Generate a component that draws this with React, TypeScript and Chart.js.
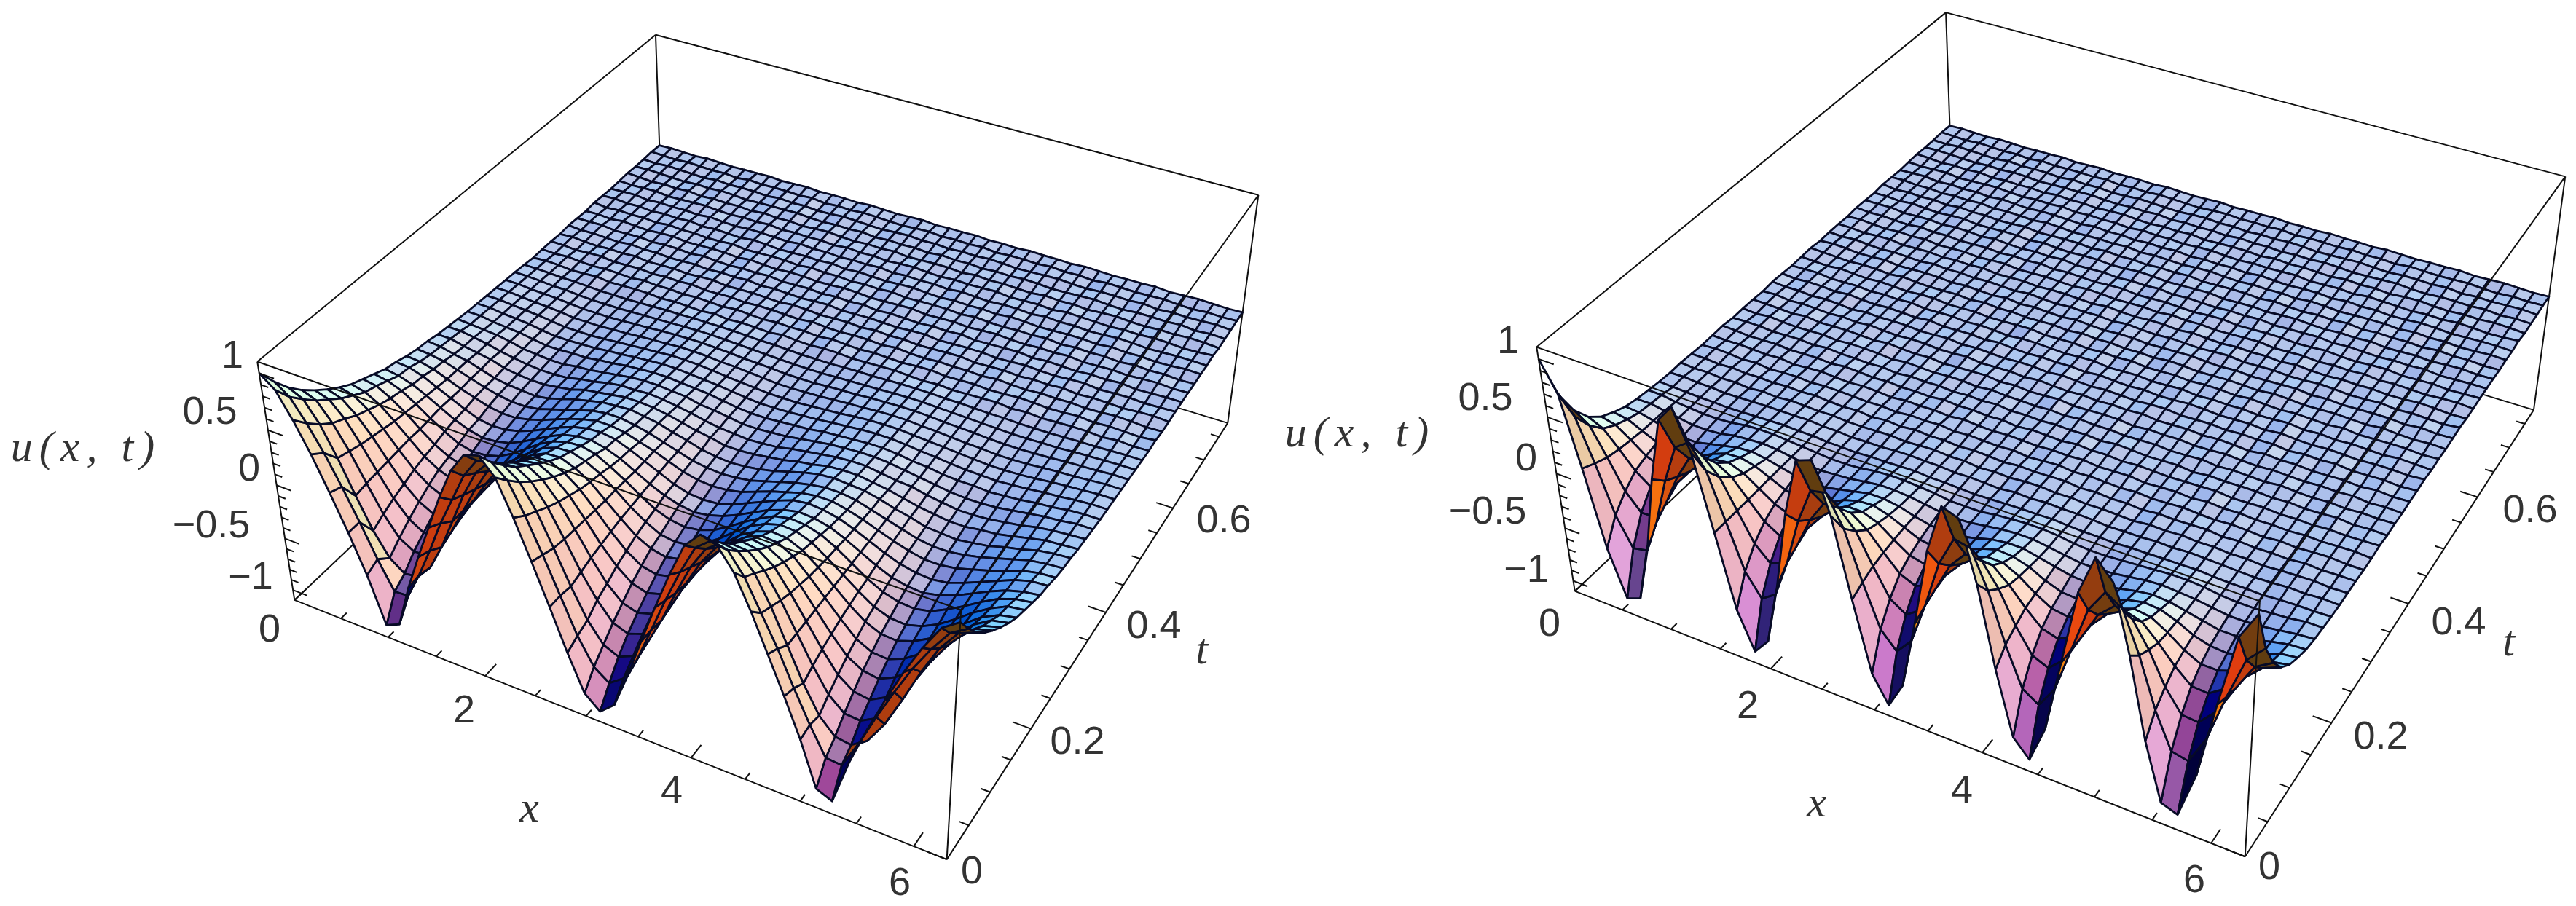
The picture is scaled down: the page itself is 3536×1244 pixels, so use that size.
import React, { useEffect, useRef } from "react";
import { Chart, registerables } from "chart.js";

Chart.register(...registerables);

// axis ranges of the plot box
const xMax = 6.283;
const tMax = 0.78;
const zHalf = 1.1;

// tick values
const xMajorTicks = [0, 2, 4, 6];
const xMinorTicks = [0.5, 1, 1.5, 2.5, 3, 3.5, 4.5, 5, 5.5];
const tMajorTicks = [0, 0.2, 0.4, 0.6];
const tMinorTicks = [0.05, 0.1, 0.15, 0.25, 0.3, 0.35, 0.45, 0.5, 0.55, 0.65, 0.7, 0.75];
const zMajorTicks = [-1, -0.5, 0, 0.5, 1];
const zMinorTicks = [-0.9, -0.8, -0.7, -0.6, -0.4, -0.3, -0.2, -0.1, 0.1, 0.2, 0.3, 0.4, 0.6, 0.7, 0.8, 0.9];

// u(x,t) in hundredths: one row per t line, front (t=0) to back
const leftNearRows = [
[100,90,68,42,12,-20,-55,-98,-92,-52,-18,14,46,74,92,96,82,52,18,-18,-55,-88,-100,-88,-55,-18,18,52,82,96,92,74,46,14,-18,-52,-92,-98,-55,-20,12,42,68,90,100],
[84,75,56,34,8,-20,-50,-76,-75,-50,-22,8,34,60,78,81,70,44,14,-18,-50,-74,-84,-74,-50,-18,14,44,70,81,78,60,34,8,-22,-50,-75,-76,-50,-20,8,34,56,75,84],
[70,64,46,20,-10,-38,-59,-69,-67,-53,-29,0,29,53,67,69,59,38,10,-20,-46,-64,-70,-64,-46,-20,10,38,59,69,67,53,29,0,-29,-53,-67,-69,-59,-38,-10,20,46,64,70],
[59,54,38,17,-8,-32,-50,-58,-57,-45,-24,0,24,45,57,58,50,32,8,-17,-38,-54,-59,-54,-38,-17,8,32,50,58,57,45,24,0,-24,-45,-57,-58,-50,-32,-8,17,38,54,59],
[50,46,33,14,-7,-27,-42,-50,-48,-38,-20,0,20,38,48,50,42,27,7,-14,-33,-46,-50,-46,-33,-14,7,27,42,50,48,38,20,0,-20,-38,-48,-50,-42,-27,-7,14,33,46,50],
[42,38,27,12,-6,-23,-35,-42,-40,-32,-17,0,17,32,40,42,35,23,6,-12,-27,-38,-42,-38,-27,-12,6,23,35,42,40,32,17,0,-17,-32,-40,-42,-35,-23,-6,12,27,38,42],
[35,32,23,10,-5,-19,-29,-35,-34,-27,-14,0,14,27,34,35,29,19,5,-10,-23,-32,-35,-32,-23,-10,5,19,29,35,34,27,14,0,-14,-27,-34,-35,-29,-19,-5,10,23,32,35],
[29,26,19,8,-4,-16,-24,-29,-28,-22,-12,0,12,22,28,29,24,16,4,-8,-19,-26,-29,-26,-19,-8,4,16,24,29,28,22,12,0,-12,-22,-28,-29,-24,-16,-4,8,19,26,29],
[25,23,16,7,-4,-14,-21,-25,-24,-19,-10,0,10,19,24,25,21,14,4,-7,-16,-23,-25,-23,-16,-7,4,14,21,25,24,19,10,0,-10,-19,-24,-25,-21,-14,-4,7,16,23,25],
[21,19,14,6,-3,-11,-18,-21,-20,-16,-9,0,9,16,20,21,18,11,3,-6,-14,-19,-21,-19,-14,-6,3,11,18,21,20,16,9,0,-9,-16,-20,-21,-18,-11,-3,6,14,19,21],
[17,15,11,5,-2,-9,-14,-17,-16,-13,-7,0,7,13,16,17,14,9,2,-5,-11,-15,-17,-15,-11,-5,2,9,14,17,16,13,7,0,-7,-13,-16,-17,-14,-9,-2,5,11,15,17],
[15,14,10,4,-2,-8,-13,-15,-14,-11,-6,0,6,11,14,15,13,8,2,-4,-10,-14,-15,-14,-10,-4,2,8,13,15,14,11,6,0,-6,-11,-14,-15,-13,-8,-2,4,10,14,15],
[12,11,8,3,-2,-6,-10,-12,-12,-9,-5,0,5,9,12,12,10,6,2,-3,-8,-11,-12,-11,-8,-3,2,6,10,12,12,9,5,0,-5,-9,-12,-12,-10,-6,-2,3,8,11,12],
[10,9,7,3,-1,-5,-8,-10,-10,-8,-4,0,4,8,10,10,8,5,1,-3,-7,-9,-10,-9,-7,-3,1,5,8,10,10,8,4,0,-4,-8,-10,-10,-8,-5,-1,3,7,9,10],
[9,8,5,3,-1,-5,-7,-8,-9,-7,-3,1,4,7,8,9,7,5,1,-2,-6,-8,-9,-8,-6,-3,1,5,8,9,8,7,4,0,-3,-7,-8,-9,-7,-5,-1,2,6,8,9],
[7,7,4,2,0,-4,-6,-7,-7,-5,-3,1,3,5,7,7,6,4,1,-2,-4,-7,-7,-6,-4,-2,1,3,6,7,7,5,3,0,-3,-5,-7,-7,-5,-4,-1,2,5,6,7],
[6,6,4,2,-1,-3,-5,-6,-6,-5,-2,0,3,5,5,6,5,3,1,-2,-4,-5,-6,-5,-4,-1,1,3,5,6,6,4,2,1,-2,-4,-6,-6,-5,-3,-1,2,4,5,6],
[5,4,3,2,0,-3,-4,-5,-5,-3,-2,0,2,4,5,5,4,3,0,-1,-3,-5,-5,-4,-3,-1,1,3,4,5,5,4,2,0,-2,-4,-5,-5,-4,-2,0,2,3,5,5],
[4,4,2,1,0,-2,-4,-4,-3,-3,-1,0,2,3,4,4,3,2,1,-1,-3,-4,-4,-3,-2,-1,1,2,3,4,4,3,1,0,-2,-3,-3,-4,-3,-2,0,1,3,4,4],
];
// left surface, the last faint wave before it goes flat
const leftMidRows = [
[3.5,3.5,2,1,0,-2,-3.5,-3.5,-3,-2.5,-1,0,1.5,2.5,3.5,3.5,2.5,1.5,.5,-1,-2.5,-3.5,-3.5,-3,-2,-1,.5,1.5,3,3.5,3.5,2.5,1,0,-1.5,-2.5,-3,-3.5,-2.5,-1.5,0,1,2.5,3.5,3.5],
[3,3,2,1,0,-1.5,-3,-3,-3,-2,-1,0,1,2,3,3,2.5,1.5,0,-1,-2,-3,-3,-3,-2,-1,0,1.5,2.5,3,3,2,1,0,-1,-2,-3,-3,-2.5,-1.5,0,1,2,3,3],
[2.5,2.5,1.5,.5,0,-1,-2.5,-2.5,-2.5,-1.5,-1,0,1,1.5,2.5,2.5,2,1,.5,-.5,-1.5,-2.5,-2.5,-2,-1.5,-.5,.5,1,2,2.5,2.5,1.5,1,0,-1,-1.5,-2.5,-2.5,-2,-1,0,.5,1.5,2.5,2.5],
[2,2,1,.5,0,-1,-2,-2,-2,-1.5,-.5,0,1,1.5,2,2,1.5,1,0,-.5,-1,-2,-2,-2,-1,-.5,0,1,1.5,2,2,1.5,.5,0,-.5,-1.5,-2,-2,-1.5,-1,0,.5,1,2,2],
[1.5,1.5,1,0,0,-1,-1.5,-1.5,-1.5,-1,-.5,0,.5,1,1.5,1.5,1,.5,0,-.5,-1,-1.5,-1.5,-1.5,-1,-.5,0,.5,1,1.5,1.5,1,.5,0,-.5,-1,-1.5,-1.5,-1,-1,0,.5,1,1.5,1.5],
[1,1,.5,0,0,-.5,-1,-1,-1,-.5,0,.5,.5,1,1,1,1,.5,0,0,-.5,-1,-1,-1,-.5,0,0,.5,1,1,1,.5,.5,0,-.5,-.5,-1,-1,-1,-.5,0,0,.5,1,1],
];
const rightNearRows = [
[100,76,14,-54,-96,-91,-41,28,84,99,65,0,-65,-99,-84,-28,41,91,96,54,-14,-76,-100,-76,-14,54,96,91,41,-28,-84,-99,-65,0,65,99,84,28,-41,-91,-96,-54,14,76,100],
[61,46,9,-33,-59,-56,-25,17,51,60,40,0,-40,-60,-51,-17,25,56,59,33,-9,-46,-61,-46,-9,33,59,56,25,-17,-51,-60,-40,0,40,60,51,17,-25,-56,-59,-33,9,46,61],
[38,29,5,-21,-36,-35,-16,11,32,38,25,0,-25,-38,-32,-11,16,35,36,21,-5,-29,-38,-29,-5,21,36,35,16,-11,-32,-38,-25,0,25,38,32,11,-16,-35,-36,-21,5,29,38],
[23,17,3,-12,-22,-21,-9,6,19,23,15,0,-15,-23,-19,-6,9,21,22,12,-3,-17,-23,-17,-3,12,22,21,9,-6,-19,-23,-15,0,15,23,19,6,-9,-21,-22,-12,3,17,23],
[14,11,2,-8,-13,-13,-6,4,12,14,9,0,-9,-14,-12,-4,6,13,13,8,-2,-11,-14,-11,-2,8,13,13,6,-4,-12,-14,-9,0,9,14,12,4,-6,-13,-13,-8,2,11,14],
[9,7,1,-5,-9,-8,-4,3,8,9,6,0,-6,-9,-8,-3,4,8,9,5,-1,-7,-9,-7,-1,5,9,8,4,-3,-8,-9,-6,0,6,9,8,3,-4,-8,-9,-5,1,7,9],
[5,4,1,-3,-5,-5,-2,1,4,5,3,0,-3,-5,-4,-1,2,5,5,3,-1,-4,-5,-4,-1,3,5,5,2,-1,-4,-5,-3,0,3,5,4,1,-2,-5,-5,-3,1,4,5],
];
// slightly rippled far part of the surface, in half-hundredths, t lines behind the wedges
const farRows = [
[6,6,2,-2,-6,-6,-4,2,4,6,4,0,-4,-6,-4,-2,2,6,6,4,0,-4,-6,-4,0,4,6,6,2,-2,-6,-6,-4,0,4,6,4,2,-2,-6,-6,-4,0,4,6],
[4,4,0,-2,-4,-4,-2,2,4,4,2,0,-2,-4,-4,-2,2,4,4,2,0,-4,-4,-4,0,2,4,4,2,-2,-4,-4,-2,0,2,4,4,2,-2,-4,-4,-2,0,4,4],
[2,1,0,-1,-1,-2,-1,0,1,2,1,1,-1,-1,-2,0,0,1,2,0,0,-1,-2,-1,0,1,1,2,0,-1,-1,-2,0,0,1,1,2,0,-1,-1,-2,0,1,1,2],
[1,2,0,0,-2,-1,0,1,1,1,2,0,0,-2,-1,-1,1,2,1,1,-1,0,-1,-2,1,0,2,1,1,0,-2,-1,-1,1,0,2,1,0,-1,-2,-1,1,0,2,1],
[2,0,1,-1,0,-2,1,-1,2,1,0,1,-1,-1,0,1,-1,1,2,0,1,-2,0,-1,1,2,0,1,-1,0,-1,-2,1,0,2,0,1,-1,0,-2,0,1,2,0,1],
[1,1,-1,1,-1,0,-1,1,0,2,0,-1,1,-2,1,-1,2,0,1,-1,1,0,-2,1,0,1,2,-1,1,-1,0,-2,1,0,1,2,-1,1,-1,0,-1,2,0,1,1],
[0,2,1,-1,1,-2,0,1,-1,1,1,0,-1,0,-2,1,0,2,-1,1,0,-1,1,-2,0,2,-1,1,0,-1,1,-1,0,2,0,-1,1,0,-2,1,-1,1,2,0,0],
[1,0,1,0,-1,1,-2,0,2,0,-1,1,0,-2,1,0,1,-1,2,0,-1,1,0,-1,1,0,2,-1,0,1,-2,0,1,-1,2,0,1,-1,0,-1,1,0,1,2,0],
[2,1,-1,0,1,-1,0,1,-1,2,1,-1,1,-1,0,-1,2,0,1,-1,1,-2,1,0,-1,2,0,1,-1,1,0,-1,0,1,2,-1,0,1,-1,0,-1,1,0,1,2],
[0,1,1,-1,0,1,-1,2,0,0,-1,1,-2,1,0,1,-1,1,0,2,-1,0,-1,1,0,1,-1,2,1,-1,0,1,-2,1,0,1,1,-1,1,-1,0,2,-1,1,0],
[1,-1,2,0,-1,0,1,-1,1,1,0,-2,1,0,-1,1,1,-1,2,0,0,-1,1,-1,2,0,1,-1,0,1,-1,0,2,-1,1,0,-1,2,0,-1,1,-1,1,0,1],
[1,1,0,-1,2,-1,0,1,0,-1,2,0,-1,1,-2,0,1,2,-1,1,-1,0,2,-1,0,1,1,-2,1,0,1,-1,0,2,0,-1,1,0,-1,1,0,2,-1,1,0],
[0,2,-1,1,0,-1,1,-1,2,0,-1,1,1,-1,0,2,-1,0,1,-1,2,0,-1,1,-1,1,0,2,-1,0,1,-1,1,0,-2,2,0,1,-1,0,1,-1,2,0,1],
[2,0,1,-1,1,0,-2,1,0,1,1,-1,0,2,-1,1,0,-1,1,1,-1,2,0,-1,1,0,-1,1,2,-1,0,1,-1,1,0,1,-2,1,0,2,-1,0,1,-1,1],
[1,-1,1,1,-1,2,0,-1,1,0,-1,2,-1,0,1,-1,2,0,-1,1,0,1,-1,2,0,-1,1,-1,0,2,1,-1,0,1,-1,2,0,-1,1,0,-1,1,1,0,2],
[0,1,2,-1,0,1,-1,1,0,2,-1,0,1,-1,1,0,-2,1,1,0,-1,1,2,-1,0,1,-1,0,2,-1,1,0,1,-1,0,2,-1,1,-1,1,0,-1,2,1,0],
[1,0,-1,2,0,-1,1,0,-1,1,2,-1,0,1,-1,0,1,2,-1,0,1,-1,1,0,2,-1,0,1,-1,1,1,-1,2,0,-1,1,0,-1,2,-1,0,1,1,-1,1],
[2,1,0,-1,1,1,-1,2,0,-1,0,1,-1,2,0,1,-1,0,1,-1,2,0,1,-1,0,-1,2,1,-1,0,1,0,-1,2,1,-1,0,1,0,-1,2,0,-1,1,0],
[0,2,1,-1,0,2,-1,0,1,1,-1,1,0,-1,2,-1,1,0,-1,2,0,-1,1,1,-1,0,1,2,0,-1,1,-1,0,1,2,-1,1,-1,0,1,1,-1,2,0,1],
[1,0,2,0,-1,1,0,-1,2,0,1,-1,1,0,-1,2,0,-1,1,0,1,-1,2,0,-1,1,0,-1,1,2,-1,0,1,-1,0,2,1,-1,0,2,-1,1,0,-1,2],
[1,1,-1,1,2,-1,0,1,-1,1,0,2,-1,0,1,-1,1,1,0,-1,2,0,-1,1,1,-1,2,0,-1,1,0,1,-1,2,0,-1,1,0,1,-1,0,2,1,-1,0],
[0,2,0,-1,1,0,2,-1,0,1,-1,1,2,-1,0,1,0,-1,2,1,-1,0,1,-1,2,0,1,-1,0,1,2,-1,0,1,-1,1,0,2,-1,1,0,-1,1,2,0],
[2,0,1,0,-1,2,0,1,-1,0,1,-1,1,0,2,-1,1,0,-1,1,2,-1,0,1,0,-1,1,2,-1,0,1,1,-1,0,2,0,-1,1,2,-1,0,1,-1,0,1],
[1,1,2,-1,0,1,-1,1,1,-1,2,0,-1,1,0,2,-1,0,1,-1,1,0,2,-1,1,0,-1,1,0,2,-1,0,1,2,-1,1,0,-1,1,0,2,-1,0,1,1],
[0,1,-1,2,0,-1,1,2,-1,0,1,1,-1,2,0,-1,1,1,-1,0,2,1,-1,0,1,2,-1,0,1,-1,1,2,0,-1,1,0,2,-1,0,1,-1,1,2,0,1],
[2,-1,1,0,1,-1,2,0,1,-1,0,2,-1,0,1,1,-1,2,0,1,-1,1,0,2,-1,0,1,1,-1,2,0,-1,1,0,2,-1,1,0,1,-1,2,0,1,-1,0],
[1,2,0,1,-1,1,0,2,-1,1,0,-1,2,1,-1,0,1,0,2,-1,1,0,-1,1,2,0,-1,1,0,1,-1,2,1,-1,0,1,1,-1,2,0,1,-1,0,2,1],
[0,1,2,-1,1,0,1,-1,2,0,-1,1,1,0,-1,2,0,1,-1,1,0,2,-1,1,0,1,-1,2,0,-1,1,1,-1,2,0,1,-1,0,2,1,-1,0,1,1,0],
[1,0,1,2,-1,0,1,2,0,-1,1,0,2,-1,1,0,1,-1,2,0,1,-1,1,2,0,-1,1,0,1,2,-1,0,1,-1,2,1,0,-1,1,0,2,1,-1,0,2],
[2,1,-1,1,0,2,-1,1,0,1,-1,2,0,1,-1,1,2,0,-1,1,0,2,-1,0,1,1,-1,2,0,1,0,-1,2,0,1,-1,1,2,0,-1,1,0,2,1,-1],
[1,2,1,0,-1,1,0,2,1,-1,0,1,1,2,0,-1,1,0,2,-1,1,0,1,-1,2,0,1,-1,1,0,2,1,-1,0,1,2,0,-1,1,1,0,2,-1,1,0],
[1,0,2,1,0,-1,2,0,1,1,-1,2,0,1,-1,0,2,1,0,-1,1,2,0,1,-1,1,0,2,1,-1,0,1,2,0,-1,1,1,0,2,-1,1,0,1,2,0],
[2,1,0,2,1,0,1,-1,2,0,1,1,0,2,-1,1,0,2,1,0,-1,1,2,0,1,0,2,-1,1,1,0,2,0,1,-1,2,1,0,1,2,0,-1,1,0,1],
[1,2,1,0,2,1,0,1,1,2,0,1,2,0,1,1,0,2,1,0,1,2,0,1,1,2,0,1,0,2,1,1,0,2,1,0,1,1,2,0,1,2,1,0,1],
];
const farHundredths = farRows.map((row) => row.map((v) => v / 2));
const leftRows = [...leftNearRows, ...leftMidRows, ...farHundredths.slice(18)];
const rightRows = [...rightNearRows, ...farHundredths];

// axis label texts
const xTickLabels = ["0", "2", "4", "6"];
const tTickLabels = ["0", "0.2", "0.4", "0.6"];
const zTickLabels = ["1", "0.5", "0", "\u22120.5", "\u22121"];
const axisTitles = ["x", "t", "u(x, t)"];

// ----- layout -----
const leftCanvas = { left: 0, width: 1750 };
const rightCanvas = { left: 1750, width: 1786 };
const canvasHeight = 1244;
const leftView = { ox: 1074.5, kx: 3302, oy: 542.2, ky: 3355 };
const rightView = { ox: 2850.4, kx: 3393, oy: 523.3, ky: 3434 };
const leftLabelSpots = {
  z: [[319, 490], [288, 567], [342, 645], [290, 723], [344, 794]],
  x: [[370, 866], [637, 977], [922, 1088], [1235, 1214]],
  t: [[1334, 1198], [1479, 1020], [1584, 861], [1680, 716]],
  titles: [[731, 1112], [1654, 895], [118, 617]],
};
const rightLabelSpots = {
  z: [[2070, 470], [2039, 548], [2095, 631], [2042, 704], [2095, 784]],
  x: [[2127, 858], [2399, 971], [2693, 1087], [3012, 1210]],
  t: [[3115, 1192], [3268, 1013], [3375, 856], [3473, 702]],
  titles: [[2498, 1105], [3448, 884], [1867, 597]],
};

// ----- camera -----
type V3 = [number, number, number];
const dot = (a: V3, b: V3) => a[0] * b[0] + a[1] * b[1] + a[2] * b[2];
const cross = (a: V3, b: V3): V3 => [a[1] * b[2] - a[2] * b[1], a[2] * b[0] - a[0] * b[2], a[0] * b[1] - a[1] * b[0]];
const norm = (a: V3): V3 => { const l = Math.hypot(a[0], a[1], a[2]) || 1; return [a[0] / l, a[1] / l, a[2] / l]; };
const viewPoint: V3 = [1.3, -2.4, 2];
const viewDist = Math.hypot(...viewPoint);
const fwd = norm([-viewPoint[0], -viewPoint[1], -viewPoint[2]]);
const right = norm(cross(fwd, [0, 0, 1]));
const up = cross(right, fwd);
const toBox = (x: number, t: number, z: number): V3 => [x / xMax - 0.5, t / tMax - 0.5, (z / zHalf) * 0.2];
const depth = (p: V3) => dot(p, fwd) + viewDist;
const project = (p: V3) => { const d = depth(p); return { x: dot(p, right) / d, y: dot(p, up) / d }; };

const lightTilt = (33 * Math.PI) / 180;
function shade(n0: V3) {
  let x = dot(n0, right), y = dot(n0, up), z = -dot(n0, fwd);
  const flipped = z < 0;
  if (flipped) { x = -x; y = -y; z = -z; }
  const y2 = y * Math.cos(lightTilt) - z * Math.sin(lightTilt);
  const z2 = y * Math.sin(lightTilt) + z * Math.cos(lightTilt);
  const cl = (v: number) => Math.min(1, Math.max(0, v));
  let r = cl((x + z2) / Math.SQRT2);
  let g = cl((x + y2 + z2) / Math.sqrt(3));
  let b = cl((y2 + z2) / Math.SQRT2);
  if (flipped) {
    r = cl(r + 0.38); g = cl(g + 0.24); b = cl(b + 0.06);
  } else {
    const w = cl((x + 0.2) / 0.6);
    r += 0.3 * w * (1 - r); g += 0.35 * w * (1 - g); b += 0.55 * w * (1 - b);
    const low = cl(-y2);
    const warm = cl((x + 1) / 0.5);
    r += 0.7 * low * warm * (1 - r);
    g += 0.5 * low * warm * (1 - g);
    b += 0.95 * low * (1 - b);
  }
  return `rgb(${Math.round(255 * r)},${Math.round(255 * g)},${Math.round(255 * b)})`;
}

const line3 = (pts: V3[], color: string, width: number) => ({
  data: pts.map(project), showLine: true, borderColor: color, borderWidth: width,
  pointRadius: 0, fill: false, tension: 0,
});

function buildDatasets(rows: number[][]) {
  const nx = rows[0].length - 1, nt = rows.length - 1;
  const P = (i: number, j: number) => toBox((i / nx) * xMax, (j / nt) * tMax, rows[j][i] / 100);
  const quads: { d: number; set: any }[] = [];
  for (let j = 0; j < nt; j++) for (let i = 0; i < nx; i++) {
    const a = P(i, j), b = P(i + 1, j), c = P(i + 1, j + 1), e = P(i, j + 1);
    const d1: V3 = [c[0] - a[0], c[1] - a[1], c[2] - a[2]];
    const d2: V3 = [e[0] - b[0], e[1] - b[1], e[2] - b[2]];
    const col = shade(norm(cross(d1, d2)));
    const mid: V3 = [(a[0] + b[0] + c[0] + e[0]) / 4, (a[1] + b[1] + c[1] + e[1]) / 4, (a[2] + b[2] + c[2] + e[2]) / 4];
    quads.push({
      d: depth(mid),
      set: {
        data: [a, b, c, e, a].map(project), showLine: true, fill: "shape", backgroundColor: col,
        borderColor: "#070b26", borderWidth: 2.8, pointRadius: 0, tension: 0, borderJoinStyle: "round",
      },
    });
  }
  quads.sort((p, q) => p.d - q.d);

  const zMin = -zHalf, zMax = zHalf;
  const A = toBox(0, tMax, zMax), B = toBox(xMax, tMax, zMax), C = toBox(0, 0, zMax), H = toBox(xMax, 0, zMax);
  const D = toBox(0, 0, zMin), E = toBox(xMax, 0, zMin), F = toBox(xMax, tMax, zMin), G = toBox(0, tMax, zMin);
  const edge = "#101010";
  const back = [[A, B], [A, C], [A, G], [G, D], [G, F], [B, F]].map((s) => line3(s as V3[], edge, 2));
  const front = [[C, H], [H, B], [H, E], [D, C], [D, E], [E, F]].map((s) => line3(s as V3[], edge, 2));
  const ticks: any[] = [];
  const zTick = (z: number, f: number) => ticks.push(line3([toBox(0, 0, z), toBox(f * xMax, 0, z)], edge, 2));
  zMajorTicks.forEach((z) => zTick(z, 0.024));
  zMinorTicks.forEach((z) => zTick(z, 0.012));
  const xTick = (x: number, f: number) => ticks.push(line3([toBox(x, 0, zMin), toBox(x, f * tMax, zMin)], edge, 2));
  xMajorTicks.forEach((x) => xTick(x, 0.026));
  xMinorTicks.forEach((x) => xTick(x, 0.013));
  const tTick = (t: number, f: number) => ticks.push(line3([toBox(xMax, t, zMin), toBox(xMax - f * xMax, t, zMin)], edge, 2));
  tMajorTicks.forEach((t) => tTick(t, 0.026));
  tMinorTicks.forEach((t) => tTick(t, 0.013));

  // Chart.js paints the last dataset first
  return [...front, ...ticks, ...quads.map((q) => q.set), ...back];
}

function makeChart(canvas: HTMLCanvasElement, rows: number[][], view: any, offset: number, width: number, spots: any) {
  const labelPlugin = {
    id: "axisText",
    afterDraw(chart: any) {
      const ctx = chart.ctx;
      const put = (text: string, p: number[], italic: boolean) => {
        ctx.save();
        ctx.font = italic ? 'italic 60px "Liberation Serif"' : '54px "Liberation Sans"';
        if ("letterSpacing" in ctx) ctx.letterSpacing = italic ? "9px" : "0px";
        ctx.fillStyle = "#333333";
        ctx.textAlign = "center";
        ctx.textBaseline = "middle";
        ctx.fillText(text, p[0] - offset, p[1]);
        ctx.restore();
      };
      zTickLabels.forEach((s, i) => put(s, spots.z[i], false));
      xTickLabels.forEach((s, i) => put(s, spots.x[i], false));
      tTickLabels.forEach((s, i) => put(s, spots.t[i], false));
      axisTitles.forEach((s, i) => put(s, spots.titles[i], true));
    },
  };
  return new Chart(canvas, {
    type: "scatter",
    data: { datasets: buildDatasets(rows) as any },
    options: {
      animation: false,
      responsive: false,
      devicePixelRatio: 1,
      parsing: false,
      normalized: true,
      events: [],
      layout: { padding: 0 },
      plugins: { legend: { display: false }, tooltip: { enabled: false }, filler: { drawTime: "beforeDatasetDraw" } },
      scales: {
        x: { type: "linear", display: false, bounds: "data", min: (offset - view.ox) / view.kx, max: (offset + width - view.ox) / view.kx },
        y: { type: "linear", display: false, bounds: "data", min: (view.oy - canvasHeight) / view.ky, max: view.oy / view.ky },
      },
    } as any,
    plugins: [labelPlugin],
  });
}

export default function App() {
  const leftRef = useRef<HTMLCanvasElement>(null);
  const rightRef = useRef<HTMLCanvasElement>(null);
  useEffect(() => {
    const a = makeChart(leftRef.current!, leftRows, leftView, leftCanvas.left, leftCanvas.width, leftLabelSpots);
    const b = makeChart(rightRef.current!, rightRows, rightView, rightCanvas.left, rightCanvas.width, rightLabelSpots);
    return () => { a.destroy(); b.destroy(); };
  }, []);
  return (
    <div style={{ position: "fixed", left: 0, top: 0, width: 3536, height: canvasHeight, background: "#fff" }}>
      <canvas ref={leftRef} width={leftCanvas.width} height={canvasHeight} style={{ position: "absolute", left: leftCanvas.left, top: 0 }} />
      <canvas ref={rightRef} width={rightCanvas.width} height={canvasHeight} style={{ position: "absolute", left: rightCanvas.left, top: 0 }} />
    </div>
  );
}
